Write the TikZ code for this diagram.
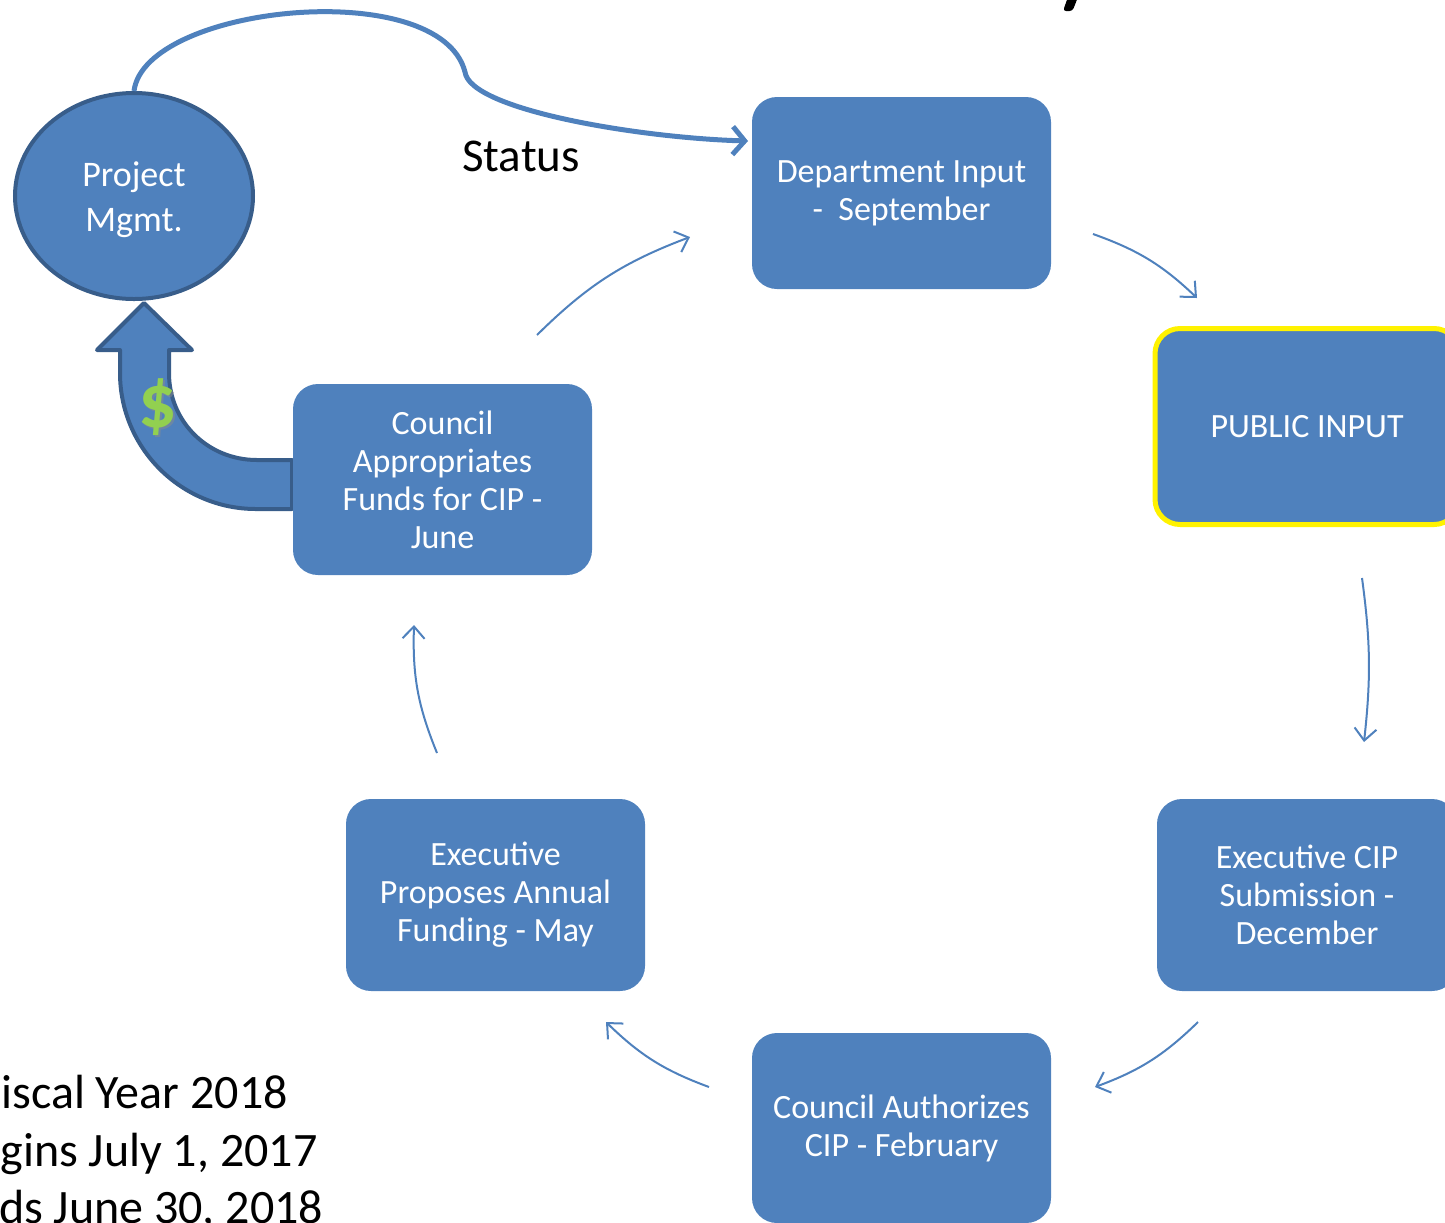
\documentclass[tikz,border=0pt]{standalone}
\usepackage{fontspec}
\setmainfont{Carlito}
\usetikzlibrary{arrows.meta,shapes.geometric}
\definecolor{boxblue}{HTML}{4F81BD}
\definecolor{darkblue}{HTML}{385D8A}
\definecolor{dollargreen}{HTML}{92D050}
\begin{document}
\begin{tikzpicture}[x=0.5pt,y=-0.5pt,
  stepbox/.style={rectangle, rounded corners=12.5pt, fill=boxblue, text=white, align=center,
    minimum width=149.5pt, minimum height=96pt, inner sep=0pt, font=\fontsize{17}{19}\selectfont},
  flow/.style={-{Straight Barb[length=6pt,width=11pt]}, line width=1pt, draw=boxblue, bend left=12},
  plain/.style={text=black, inner sep=0pt, font=\fontsize{23.5}{28.5}\selectfont}]
\useasboundingbox (0,0) rectangle (1445,1222);
\clip (0,0) rectangle (1445,1222);

% fragment of a cut-off glyph at the top
\fill[rounded corners=1.5pt] (1068,-3) -- (1078,-3) -- (1072.5,11) -- (1063,11) -- cycle;

% big money arrow
\filldraw[fill=boxblue, draw=darkblue, line width=2pt, line join=round]
  (292,460) -- (257,460) .. controls (208,460) and (169,422) .. (169,373)
  -- (169,350) -- (192,350) -- (144,303) -- (97,350) -- (120,350) -- (120,373)
  .. controls (120,448) and (181,509) .. (256,509) -- (292,509) -- cycle;
\node[text=black!45, opacity=0.5, font=\fontsize{38}{42}\selectfont\bfseries] at (160,409) {\$};
\node[text=dollargreen, font=\fontsize{38}{42}\selectfont\bfseries] (dollar) at (158,407) {\$};

% project management ellipse
\node[ellipse, fill=boxblue, draw=darkblue, line width=2pt, minimum width=119pt, minimum height=103pt,
  inner sep=0pt] (pm) at (134,196) {};
\node[text=white, align=center, inner sep=0pt, font=\fontsize{18}{22.5}\selectfont] (pmtext) at (134,200) {Project\\Mgmt.};

% boxes
\node[stepbox] (dept) at (901.5,193) {Department Input\\ -\ \ September};
\node[stepbox, draw=yellow, line width=2.5pt, minimum width=152pt, minimum height=98pt] (pub) at (1307,426.5) {PUBLIC INPUT};
\node[stepbox, minimum height=95.5pt] (approp) at (442.5,479.5) {Council\\Appropriates\\Funds for CIP -\\June};
\node[stepbox] (exprop) at (495.5,895) {Executive\\Proposes Annual\\Funding - May};
\node[stepbox, minimum width=150pt] (excip) at (1307,895) {Executive CIP\\Submission -\\December};
\node[stepbox, minimum height=95pt] (auth) at (901.5,1128) {Council Authorizes\\CIP - February};

% status connector
\coordinate (statusend) at (748,141);
\draw[line width=2.5pt, boxblue, -{Straight Barb[length=6pt,width=14pt]}]
  (pm.north) .. controls (145,5) and (440,-25) .. (465,72)
  .. controls (470,110) and (640,138) .. (statusend);
\node[plain] (status) at (521,156) {Status};

% cycle arrows
\coordinate (a1s) at (537,335);  \coordinate (a1e) at (690,237);
\coordinate (a2s) at (1093,234); \coordinate (a2e) at (1197,298);
\coordinate (a3s) at (1362,578); \coordinate (a3e) at (1364,742);
\coordinate (a4s) at (1198,1022);\coordinate (a4e) at (1095,1087);
\coordinate (a5s) at (709,1087); \coordinate (a5e) at (606,1022);
\coordinate (a6s) at (437,753);  \coordinate (a6e) at (414,625);
\draw[flow] (a1s) to (a1e);
\draw[flow] (a2s) to (a2e);
\draw[flow, bend left=7] (a3s) to (a3e);
\draw[flow] (a4s) to (a4e);
\draw[flow] (a5s) to (a5e);
\draw[flow] (a6s) to (a6e);

% fiscal year text
\node[plain, font=\fontsize{24}{29}\selectfont, anchor=base west] (fy1) at (-21,1108) {Fiscal Year 2018};
\node[plain, font=\fontsize{24}{29}\selectfont, anchor=base west] (fy2) at (-50,1166) {Begins July 1, 2017};
\node[plain, font=\fontsize{24}{29}\selectfont, anchor=base west] (fy3) at (-50,1223) {Ends June 30, 2018};
\end{tikzpicture}
\end{document}
